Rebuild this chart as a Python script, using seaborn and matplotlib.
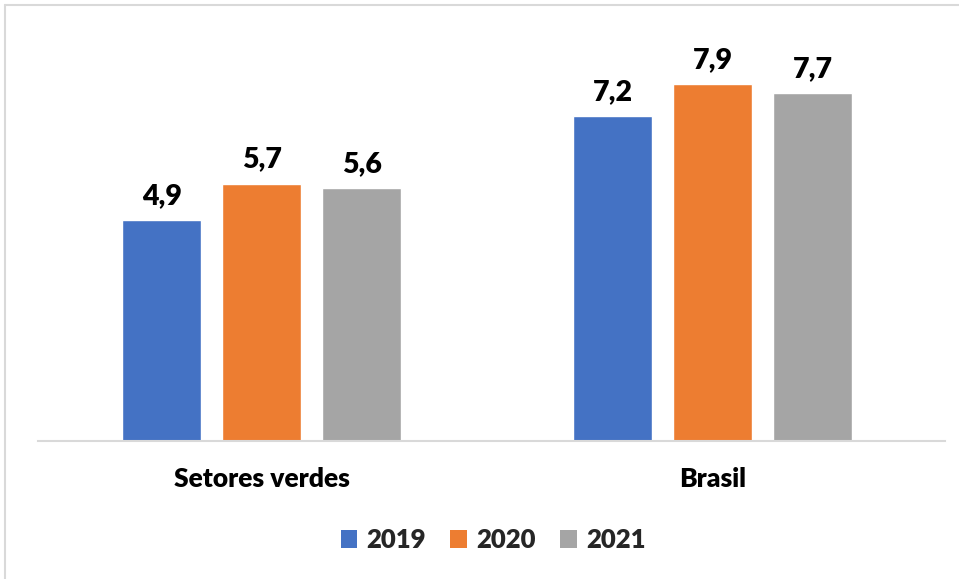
import matplotlib
matplotlib.use("Agg")
import matplotlib.pyplot as plt
import seaborn as sns
import pandas as pd
from matplotlib.lines import Line2D
from matplotlib.patches import Patch

categories = ["Setores verdes", "Brasil"]
years = ["2019", "2020", "2021"]
values_2019 = [4.9, 7.2]
values_2020 = [5.7, 7.9]
values_2021 = [5.6, 7.7]
colors = ["#4472C4", "#ED7D31", "#A5A5A5"]

rows = []
for year, vals in zip(years, [values_2019, values_2020, values_2021]):
    for cat, v in zip(categories, vals):
        rows.append({"categoria": cat, "ano": year, "valor": v})
df = pd.DataFrame(rows)

sns.set_theme(style="white")
plt.rcParams["font.family"] = ["Lato", "DejaVu Sans"]

fig = plt.figure(figsize=(9.59, 5.79), dpi=100)
ax = fig.add_axes([38 / 959, 1 - 441 / 579, 907 / 959, 404 / 579])

sns.barplot(data=df, x="categoria", y="valor", hue="ano", order=categories,
            hue_order=years, palette=colors, width=0.665, gap=0.21,
            saturation=1, legend=False, ax=ax)

ax.set_ylim(0, 8.95)
ax.set_xlim(-0.496, 1.515)
ax.set_xlabel("")
ax.set_ylabel("")
ax.set_yticks([])
ax.tick_params(axis="x", length=0, pad=19, labelsize=19)
for lbl in ax.get_xticklabels():
    lbl.set_fontweight("heavy")
    lbl.set_color("black")
for side in ["top", "right", "left"]:
    ax.spines[side].set_visible(False)
ax.spines["bottom"].set_color("#D9D9D9")
ax.spines["bottom"].set_linewidth(1.5)

for cont in ax.containers:
    ax.bar_label(cont, labels=[f"{v:.1f}".replace(".", ",") for v in cont.datavalues],
                 padding=8, fontsize=20.5, fontweight="heavy", color="black")

handles = [Patch(facecolor=c, edgecolor="none") for c in colors]
fig.legend(handles, years, loc="center", bbox_to_anchor=(493 / 959, 1 - 540 / 579),
           ncol=3, frameon=False, prop={"size": 18.5, "weight": "heavy"},
           handlelength=0.65, handleheight=0.65, handletextpad=0.35, columnspacing=0.95)

# chart frame edges
fig.add_artist(Line2D([5 / 959, 1], [1 - 5 / 579, 1 - 5 / 579], color="#D9D9D9", lw=1.5))
fig.add_artist(Line2D([5 / 959, 5 / 959], [0, 1 - 5 / 579], color="#D9D9D9", lw=1.5))

fig.savefig("out.png", dpi=100)
